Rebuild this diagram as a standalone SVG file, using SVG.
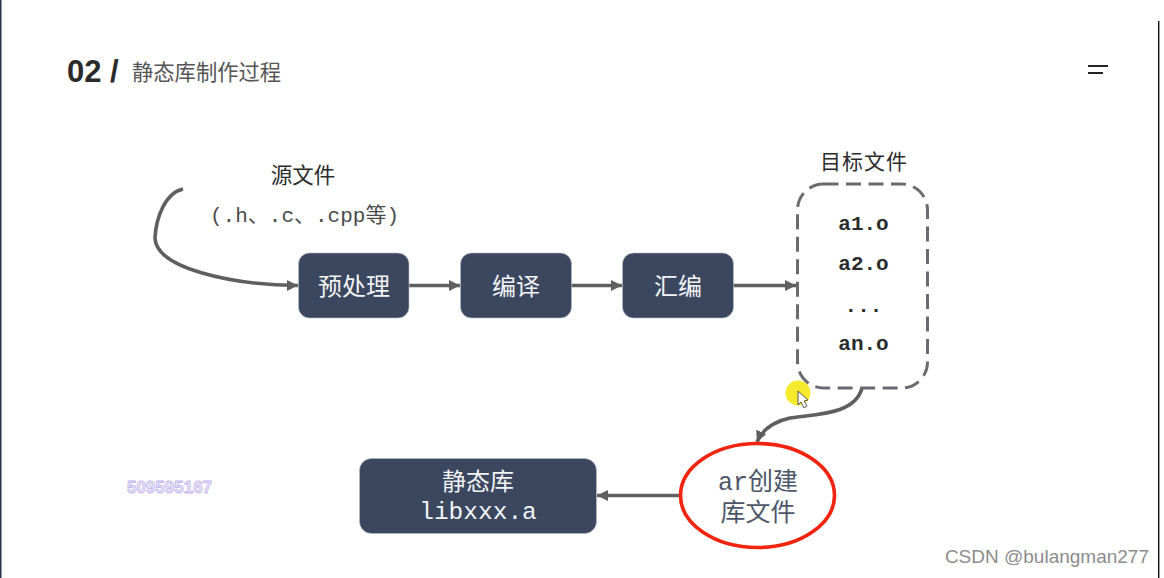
<svg xmlns="http://www.w3.org/2000/svg" width="1164" height="578" viewBox="0 0 1164 578">
<style>
.cjk{font-family:"Liberation Sans","Noto Sans CJK SC",sans-serif}
.mono{font-family:"Liberation Mono","Noto Sans CJK SC",monospace}
.box{fill:#3b475e;stroke:#b8bec8;stroke-width:.6}
.w{fill:#f2f3f5;text-anchor:middle;font-size:24px}
.k{fill:#2b2b2b;text-anchor:middle}
.b{fill:#2b2b2b;text-anchor:middle;font-size:21px;font-weight:bold}
.c{fill:none;stroke:#5f5f5f;stroke-width:3.6}
</style>
<defs>
<marker id="a" markerUnits="userSpaceOnUse" markerWidth="13" markerHeight="14" refX="11" refY="7" orient="auto"><path d="M0 1.500L11 7L0 12.500z" fill="#5f5f5f"/></marker>
</defs>
<rect width="1164" height="578" fill="#fff"/>
<rect x="0" y="0" width="1.500" height="578" fill="#26344c"/>
<rect x="1158" y="21" width="1.400" height="557" fill="#111"/>
<g id="title">
<text x="67" y="82" font-family="Liberation Sans" font-weight="bold" font-size="31" fill="#2a2a2a">02 /</text>
<text x="132" y="80" class="cjk" font-size="21.300" fill="#555">静态库制作过程</text>
</g>
<g id="menu-icon"><rect x="1088" y="65" width="20" height="2" fill="#222"/><rect x="1088" y="72" width="15" height="2" fill="#222"/></g>
<g id="connectors">
<path class="c" marker-end="url(#a)" d="M183 189C165 193 156 218 155 238C156 268 230 285 298 285.500"/>
<path class="c" marker-end="url(#a)" d="M409 285.500H460"/>
<path class="c" marker-end="url(#a)" d="M571 285.500H622"/>
<path class="c" marker-end="url(#a)" d="M733 285.500H796"/>
<path class="c" marker-end="url(#a)" d="M862 388C855 415 815 414 790 418C772 422 762 430 757 442"/>
<path class="c" marker-end="url(#a)" d="M680 495.500H597"/>
</g>
<g id="source"><text x="303" y="183" class="cjk k" font-size="21.500">源文件</text>
<text x="304.500" y="222" class="mono k" font-size="21" fill="#444" font-weight="normal" opacity=".85">(.h、.c、.cpp等)</text></g>
<g id="n1"><rect class="box" x="298.500" y="253" width="110.500" height="65" rx="11"/><text x="354" y="295" class="cjk w" font-size="25">预处理</text></g>
<g id="n2"><rect class="box" x="460.500" y="253" width="111" height="65" rx="11"/><text x="516" y="295" class="cjk w">编译</text></g>
<g id="n3"><rect class="box" x="622.500" y="253" width="111" height="65" rx="11"/><text x="678" y="295" class="cjk w">汇编</text></g>
<g id="objects">
<text x="864" y="169" class="cjk k" font-size="21" letter-spacing="1">目标文件</text>
<rect x="797.500" y="184" width="130" height="204" rx="26" fill="none" stroke="#6a6a70" stroke-width="3" stroke-dasharray="15 7.500"/>
<text x="863.500" y="230" class="mono b">a1.o</text>
<text x="863.500" y="270" class="mono b">a2.o</text>
<text x="863.500" y="312" class="mono b">...</text>
<text x="863.500" y="349.500" class="mono b">an.o</text>
</g>
<g id="cursor"><circle cx="798" cy="393" r="12.500" fill="#f5ea2c"/><path d="M798 391L798 405L801 402L804 408L807 406L804 401L808 400z" fill="#fff" stroke="#555" stroke-width="1"/></g>
<g id="lib"><rect class="box" x="359.500" y="458.500" width="237" height="75" rx="12"/>
<text x="478" y="490" class="cjk w">静态库</text><text x="478" y="519" class="mono w" style="font-size:24.500px">libxxx.a</text></g>
<g id="ar"><ellipse cx="757.500" cy="495.500" rx="77" ry="52" fill="#fff" stroke="#f0240f" stroke-width="3.600"/>
<text x="758" y="490" class="cjk" font-size="25" fill="#4c5668" text-anchor="middle"><tspan class="mono">ar</tspan>创建</text>
<text x="758" y="521" class="cjk" font-size="25" fill="#4c5668" text-anchor="middle">库文件</text></g>
<text id="qq" x="169.500" y="493" font-family="Liberation Sans" font-weight="bold" font-size="17" fill="#efeaff" stroke="#bfb3ec" stroke-width=".8" text-anchor="middle">509595167</text>
<text id="wm" x="1149" y="563" font-family="Liberation Sans" font-size="19" fill="#8c8c8c" text-anchor="end">CSDN @bulangman277</text>
</svg>
